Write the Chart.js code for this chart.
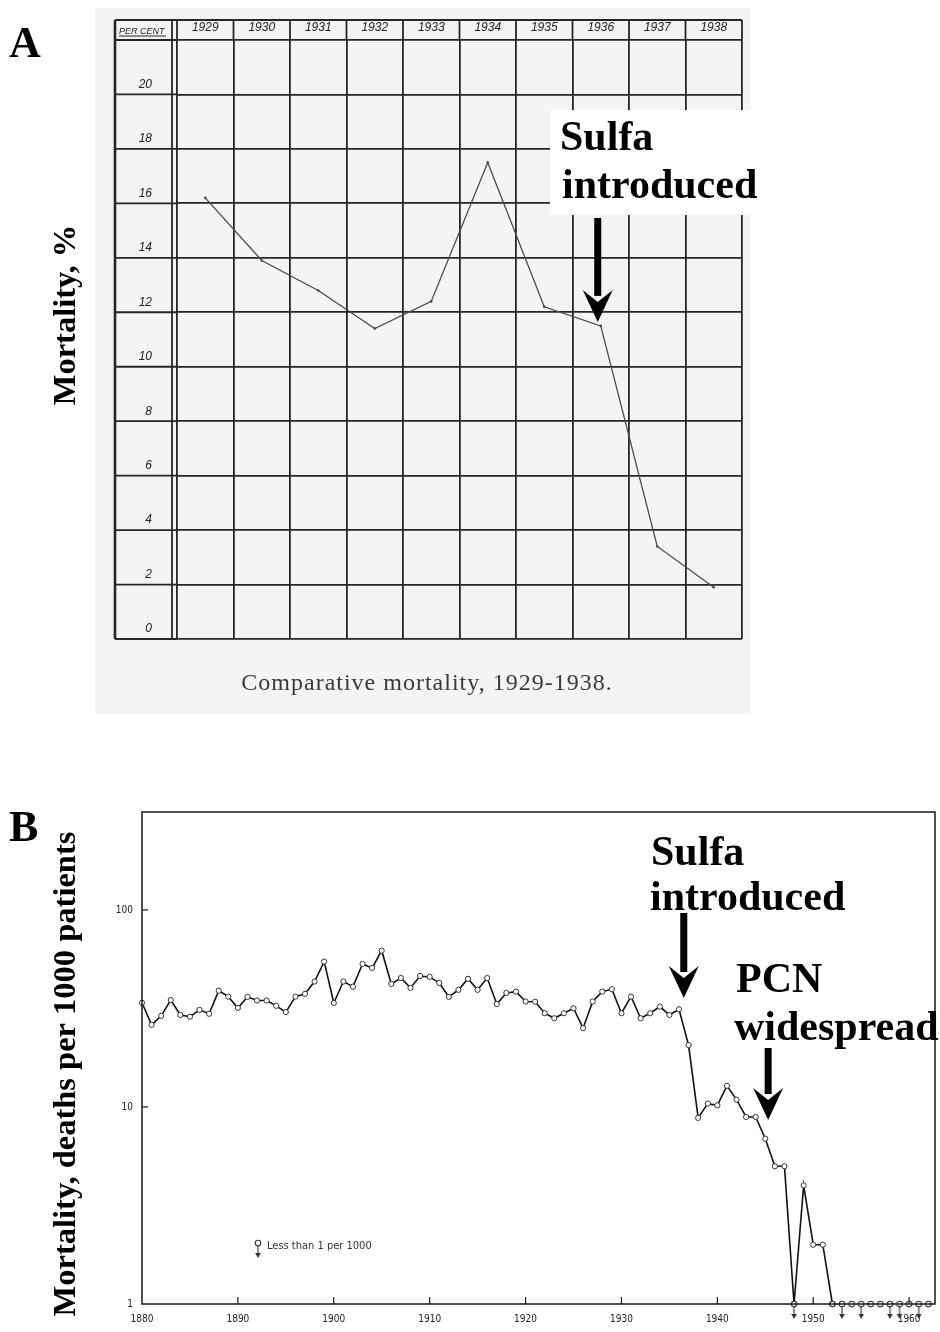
<!DOCTYPE html>
<html>
<head>
<meta charset="utf-8">
<script src="https://cdn.jsdelivr.net/npm/chart.js@4.4.0/dist/chart.umd.min.js"></script>
<style>
  body { margin: 0; background: #fff; width: 940px; height: 1332px; position: relative; overflow: hidden; }
  canvas { position: absolute; left: 0; }
  #chartA { top: 0; }
  #chartB { top: 760px; }
</style>
</head>
<body>
<canvas id="chartA" width="940" height="720" style="width:940px;height:720px"></canvas>
<canvas id="chartB" width="940" height="572" style="width:940px;height:572px"></canvas>
<script>
// panel A - comparative mortality 1929-1938 (percent)
const yearsA = ['1929', '1930', '1931', '1932', '1933', '1934', '1935', '1936', '1937', '1938'];
const mortalityA = [16.2, 13.9, 12.8, 11.4, 12.4, 17.5, 12.2, 11.5, 3.4, 1.9];

// panel B - deaths per 1000 patients, log scale
const yearsB = [1880, 1881, 1882, 1883, 1884, 1885, 1886, 1887, 1888, 1889,
                1890, 1891, 1892, 1893, 1894, 1895, 1896, 1897, 1898, 1899,
                1900, 1901, 1902, 1903, 1904, 1905, 1906, 1907, 1908, 1909,
                1910, 1911, 1912, 1913, 1914, 1915, 1916, 1917, 1918, 1919,
                1920, 1921, 1922, 1923, 1924, 1925, 1926, 1927, 1928, 1929,
                1930, 1931, 1932, 1933, 1934, 1935, 1936, 1937, 1938, 1939,
                1940, 1941, 1942, 1943, 1944, 1945, 1946, 1947, 1948, 1949,
                1950, 1951, 1952];
const mortalityB = [33.8, 26.1, 29.0, 34.9, 29.3, 28.7, 31.1, 29.7, 38.9, 36.3,
                    31.8, 36.2, 34.7, 34.7, 32.6, 30.3, 36.3, 37.5, 43.3, 54.7,
                    33.7, 43.3, 40.8, 53.2, 50.8, 62.1, 42.1, 45.1, 40.2, 46.2,
                    45.7, 42.6, 36.2, 39.3, 44.7, 39.3, 45.1, 33.3, 37.9, 38.5,
                    34.3, 34.2, 29.9, 28.2, 29.9, 31.7, 25.1, 34.3, 38.5, 39.6,
                    29.9, 36.3, 28.2, 29.9, 32.3, 29.3, 31.3, 20.6, 8.8, 10.4,
                    10.2, 12.8, 10.9, 8.9, 8.9, 6.9, 5.0, 5.0, 1, 4.0,
                    2.0, 2.0, 1];
// years below 1 per 1000, and whether the mark carries the down arrow
const lessYearsB = [1948, 1952, 1953, 1954, 1955, 1956, 1957, 1958, 1959, 1960, 1961, 1962];
const lessArrowB = [true, false, true, false, true, false, false, true, true, false, true, false];
const yTicksB = [1, 10, 100];

const ink = '#262626';
const smallSans = '"DejaVu Sans Condensed", "Liberation Sans", sans-serif';

function line(c, x1, y1, x2, y2) {
  c.beginPath(); c.moveTo(x1, y1); c.lineTo(x2, y2); c.stroke();
}

function arrow(c, x, top, tip) {
  c.save();
  c.fillStyle = '#000';
  c.fillRect(x - 3.5, top, 7, tip - top - 26);
  c.beginPath();
  c.moveTo(x - 15, tip - 32);
  c.lineTo(x, tip - 20);
  c.lineTo(x + 15, tip - 32);
  c.lineTo(x, tip);
  c.closePath();
  c.fill();
  c.restore();
}

function vtitle(c, text, x, y) {
  c.save();
  c.translate(x, y);
  c.rotate(-Math.PI / 2);
  c.font = 'bold 32.5px "Liberation Serif"';
  c.fillStyle = '#000';
  c.textAlign = 'center';
  c.textBaseline = 'middle';
  c.fillText(text, 0, 0);
  c.restore();
}

// little marks for "less than 1 per 1000"
function makeMark(withArrow) {
  const m = document.createElement('canvas');
  m.width = 12; m.height = 34;
  const c = m.getContext('2d');
  c.strokeStyle = '#333'; c.fillStyle = '#333'; c.lineWidth = 1.1;
  if (withArrow) {
    line(c, 6, 19, 6, 28);
    c.beginPath(); c.moveTo(3.2, 27); c.lineTo(8.8, 27); c.lineTo(6, 32); c.closePath(); c.fill();
  }
  c.beginPath(); c.arc(6, 17, 2.8, 0, Math.PI * 2);
  c.fillStyle = '#fff'; c.fill(); c.stroke();
  return m;
}
const arrowMark = makeMark(true);
const circleMark = makeMark(false);

const panelA = {
  id: 'panelA',
  beforeDraw(chart) {
    const c = chart.ctx;
    c.save(); c.fillStyle = '#f4f4f4'; c.fillRect(95, 8, 655, 706); c.restore();
  },
  afterDraw(chart) {
    const c = chart.ctx;
    const a = chart.chartArea;
    const x = chart.scales.x, y = chart.scales.y;
    const left = 115, headTop = 20;
    c.save();
    c.strokeStyle = ink; c.lineWidth = 1.8;
    y.ticks.forEach(t => {
      const py = y.getPixelForValue(t.value);
      line(c, left, py, a.left, py);
    });
    line(c, left, headTop, a.right, headTop);
    const w = x.getPixelForValue(1) - x.getPixelForValue(0);
    for (let i = 0; i <= yearsA.length; i++) {
      const px = x.getPixelForValue(0) - w / 2 + i * w;
      line(c, px, headTop, px, a.top);
    }
    line(c, a.left - 5, headTop, a.left - 5, a.bottom);
    c.lineWidth = 2.6;
    line(c, left, headTop, left, a.bottom);
    // PER CENT header
    c.fillStyle = '#222';
    c.font = 'italic 9px "Liberation Sans"';
    c.textBaseline = 'alphabetic';
    c.fillText('PER CENT', 119, 34);
    c.lineWidth = 1;
    line(c, 119, 36, 166, 36);

    // caption
    c.font = '24px "Liberation Serif"';
    c.fillStyle = '#3a3a3a';
    c.letterSpacing = '1px';
    c.textAlign = 'center';
    c.fillText('Comparative mortality, 1929-1938.', 427, 690);
    c.letterSpacing = '0px';

    // sulfa annotation
    c.fillStyle = '#fff';
    c.fillRect(550, 110, 217, 105);
    c.fillStyle = '#000';
    c.textAlign = 'left';
    c.font = 'bold 42px "Liberation Serif"';
    c.fillText('Sulfa', 560, 150);
    c.fillText('introduced', 562, 198);
    c.restore();
    arrow(c, x.getPixelForValue(7) - 3, 218, y.getPixelForValue(mortalityA[7]) - 4);

    vtitle(c, 'Mortality, %', 67, 315);
    c.save();
    c.font = 'bold 44px "Liberation Serif"';
    c.fillStyle = '#000';
    c.fillText('A', 9, 57);
    c.restore();
  }
};

new Chart(document.getElementById('chartA'), {
  type: 'line',
  data: {
    labels: yearsA,
    datasets: [{
      data: mortalityA,
      borderColor: '#4a4a4a',
      borderWidth: 1.3,
      pointRadius: 1.3,
      pointBackgroundColor: '#4a4a4a',
      pointBorderWidth: 0,
      tension: 0,
      fill: false
    }]
  },
  options: {
    responsive: false,
    animation: false,
    layout: { padding: { left: 115, top: 22, right: 198, bottom: 81 } },
    plugins: { legend: { display: false }, tooltip: { enabled: false } },
    scales: {
      x: {
        position: 'top',
        offset: true,
        grid: { offset: true, color: ink, lineWidth: 1.8, drawTicks: false },
        border: { display: false },
        ticks: {
          color: '#222', padding: 5, maxRotation: 0, autoSkip: false,
          font: { family: 'Liberation Sans', size: 12, style: 'italic' }
        },
        afterFit: s => { s.height = 18; }
      },
      y: {
        min: 0,
        max: 22,
        grid: { color: ink, lineWidth: 1.8, drawTicks: false },
        border: { display: false },
        ticks: {
          stepSize: 2, padding: 25, labelOffset: -10, color: '#222',
          font: { family: 'Liberation Sans', size: 12, style: 'italic' },
          callback: v => (v === 22 ? '' : v)
        },
        afterFit: s => { s.width = 62; }
      }
    }
  },
  plugins: [panelA]
});

const panelB = {
  id: 'panelB',
  afterDraw(chart) {
    const c = chart.ctx;
    const a = chart.chartArea;
    const x = chart.scales.x, y = chart.scales.y;
    c.save();
    c.strokeStyle = '#1a1a1a'; c.lineWidth = 1.5;
    c.strokeRect(a.left, a.top, a.right - a.left, a.bottom - a.top);
    c.lineWidth = 1.2;
    x.ticks.forEach(t => {
      if (t.value === 1880) return;
      const px = x.getPixelForValue(t.value);
      line(c, px, a.bottom, px, a.bottom - 7);
    });
    yTicksB.slice(1).forEach(v => {
      const py = y.getPixelForValue(v);
      line(c, a.left, py, a.left + 6, py);
    });

    // legend
    c.drawImage(arrowMark, 252, 483 - 17);
    c.fillStyle = '#333';
    c.font = '11px ' + smallSans;
    c.textBaseline = 'middle';
    c.fillText('Less than 1 per 1000', 267, 486);

    // annotations
    c.fillStyle = '#000';
    c.textBaseline = 'alphabetic';
    c.font = 'bold 42px "Liberation Serif"';
    c.fillText('Sulfa', 651, 105);
    c.fillText('introduced', 650, 150);
    c.fillText('PCN', 736, 232);
    c.fillText('widespread', 734, 280);
    c.restore();
    arrow(c, x.getPixelForValue(1936.5), 153, 238);
    arrow(c, x.getPixelForValue(1945.3), 288, 360);

    vtitle(c, 'Mortality, deaths per 1000 patients', 67, 314);
    c.save();
    c.font = 'bold 44px "Liberation Serif"';
    c.fillStyle = '#000';
    c.fillText('B', 9, 81);
    c.restore();
  }
};

new Chart(document.getElementById('chartB'), {
  type: 'line',
  data: {
    datasets: [{
      data: yearsB.map((yr, i) => ({ x: yr, y: mortalityB[i] })),
      borderColor: '#111',
      borderWidth: 1.6,
      pointRadius: 2.6,
      pointBackgroundColor: '#fff',
      pointBorderColor: '#333',
      pointBorderWidth: 1,
      tension: 0,
      clip: false
    }, {
      data: lessYearsB.map(yr => ({ x: yr, y: 1 })),
      showLine: false,
      pointRadius: 3,
      pointStyle: ctx => (lessArrowB[ctx.dataIndex] ? arrowMark : circleMark),
      clip: false
    }]
  },
  options: {
    responsive: false,
    animation: false,
    layout: { padding: { left: 112, top: 52, right: 3, bottom: 8 } },
    plugins: { legend: { display: false }, tooltip: { enabled: false } },
    scales: {
      x: {
        type: 'linear',
        min: 1880,
        max: 1962.7,
        grid: { display: false, drawTicks: false },
        border: { display: false },
        ticks: {
          stepSize: 10, includeBounds: false, padding: 9, maxRotation: 0, color: '#222',
          font: { family: smallSans, size: 10 },
          callback: v => (v % 10 === 0 ? String(v) : '')
        },
        afterFit: s => { s.height = 20; }
      },
      y: {
        type: 'logarithmic',
        min: 1,
        max: 314,
        grid: { display: false, drawTicks: false },
        border: { display: false },
        afterBuildTicks: s => { s.ticks = yTicksB.map(v => ({ value: v })); },
        ticks: {
          padding: 9, color: '#222',
          font: { family: smallSans, size: 10 },
          callback: v => String(v)
        },
        afterFit: s => { s.width = 30; }
      }
    }
  },
  plugins: [panelB]
});
</script>
</body>
</html>
